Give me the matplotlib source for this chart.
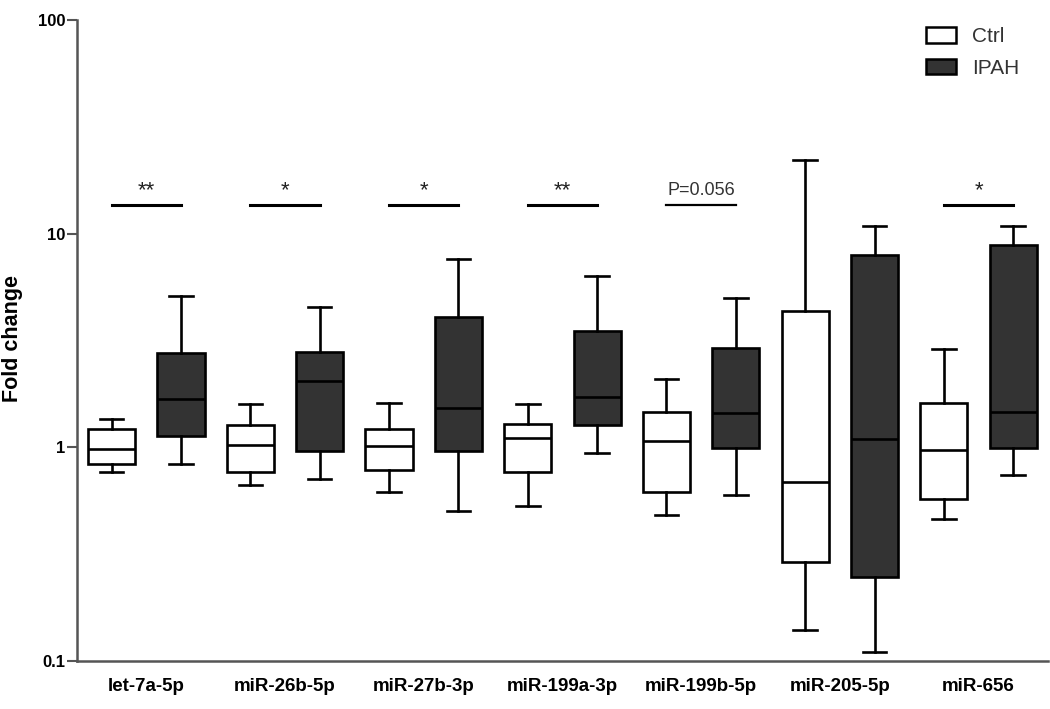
import matplotlib
matplotlib.use('Agg')
import matplotlib.pyplot as plt
from matplotlib.patches import Patch
import numpy as np

plt.rcParams['font.family'] = ['Liberation Sans', 'DejaVu Sans']

categories = ['let-7a-5p', 'miR-26b-5p', 'miR-27b-3p', 'miR-199a-3p',
              'miR-199b-5p', 'miR-205-5p', 'miR-656']

# Ctrl boxes (whisker low, Q1, median, Q3, whisker high)
ctrl_lo = [0.77, 0.665, 0.62, 0.53, 0.48, 0.139, 0.463]
ctrl_q1 = [0.835, 0.77, 0.78, 0.77, 0.617, 0.291, 0.574]
ctrl_med = [0.98, 1.03, 1.01, 1.11, 1.07, 0.687, 0.97]
ctrl_q3 = [1.22, 1.27, 1.22, 1.29, 1.46, 4.36, 1.62]
ctrl_hi = [1.35, 1.59, 1.61, 1.60, 2.08, 22.0, 2.88]

# IPAH boxes
ipah_lo = [0.835, 0.708, 0.505, 0.942, 0.60, 0.110, 0.74]
ipah_q1 = [1.13, 0.96, 0.965, 1.27, 0.99, 0.247, 0.99]
ipah_med = [1.69, 2.05, 1.52, 1.72, 1.45, 1.09, 1.47]
ipah_q3 = [2.75, 2.78, 4.08, 3.49, 2.92, 7.97, 8.84]
ipah_hi = [5.12, 4.56, 7.62, 6.32, 4.98, 10.9, 10.9]

sig_labels = ['**', '*', '*', '**', 'P=0.056', '', '*']
sig_y = 13.6

ytick_vals = [0.1, 1, 10, 100]
ytick_labels = ['0.1', '1', '10', '100']


def make_stats(lo, q1, med, q3, hi):
    return [dict(whislo=a, q1=b, med=c, q3=d, whishi=e, fliers=[])
            for a, b, c, d, e in zip(lo, q1, med, q3, hi)]


fig = plt.figure(figsize=(10.5, 7.09), dpi=100)
ax = fig.add_axes([0.0733, 0.0677, 0.9247, 0.9041])

x = np.arange(len(categories))
lw = 1.9
common = dict(showfliers=False, widths=0.34, capwidths=0.17, patch_artist=True,
              whiskerprops=dict(color='black', linewidth=lw),
              capprops=dict(color='black', linewidth=lw),
              medianprops=dict(color='black', linewidth=lw))

ax.bxp(make_stats(ctrl_lo, ctrl_q1, ctrl_med, ctrl_q3, ctrl_hi),
       positions=x - 0.25,
       boxprops=dict(facecolor='white', edgecolor='black', linewidth=lw),
       **common)
ax.bxp(make_stats(ipah_lo, ipah_q1, ipah_med, ipah_q3, ipah_hi),
       positions=x + 0.25,
       boxprops=dict(facecolor='#333333', edgecolor='black', linewidth=lw),
       **common)

# significance bars
for i, lab in enumerate(sig_labels):
    if not lab:
        continue
    if lab.startswith('P'):
        ax.plot([i - 0.25, i + 0.25], [sig_y, sig_y], color='black', lw=1.6)
        ax.text(i, 15.2, lab, ha='center', va='baseline',
                fontsize=13, color='#333333')
    else:
        ax.plot([i - 0.25, i + 0.25], [sig_y, sig_y], color='black', lw=2.2)
        ax.text(i, 15.0, lab, ha='center', va='baseline',
                fontsize=16, color='#222222')

ax.set_yscale('log')
ax.set_ylim(0.1, 100)
ax.set_xlim(-0.5, 6.5)
ax.set_yticks(ytick_vals)
ax.set_yticklabels(ytick_labels, fontweight='bold', fontsize=12)
ax.yaxis.set_minor_locator(matplotlib.ticker.NullLocator())
ax.set_xticks(x)
ax.set_xticklabels(categories, fontweight='bold', fontsize=13.5)
ax.tick_params(axis='x', length=0, pad=12)
ax.tick_params(axis='y', length=7, width=1.5, color='#555555', pad=1.5)
ax.set_ylabel('Fold change', fontweight='bold', fontsize=15.5)
ax.yaxis.set_label_coords(-0.0556, 0.503)

for s in ['top', 'right']:
    ax.spines[s].set_visible(False)
for s in ['left', 'bottom']:
    ax.spines[s].set_color('#555555')
    ax.spines[s].set_linewidth(1.8)

handles = [Patch(facecolor='white', edgecolor='black', linewidth=1.8, label='Ctrl'),
           Patch(facecolor='#333333', edgecolor='black', linewidth=1.8, label='IPAH')]
fig.legend(handles=handles, loc='upper left', bbox_to_anchor=(0.882, 0.962),
           frameon=False, fontsize=15, handlelength=1.45, handleheight=0.78,
           handletextpad=0.75, labelspacing=0.6, borderpad=0, borderaxespad=0,
           labelcolor='#333333')

fig.savefig('out.png', dpi=100)
